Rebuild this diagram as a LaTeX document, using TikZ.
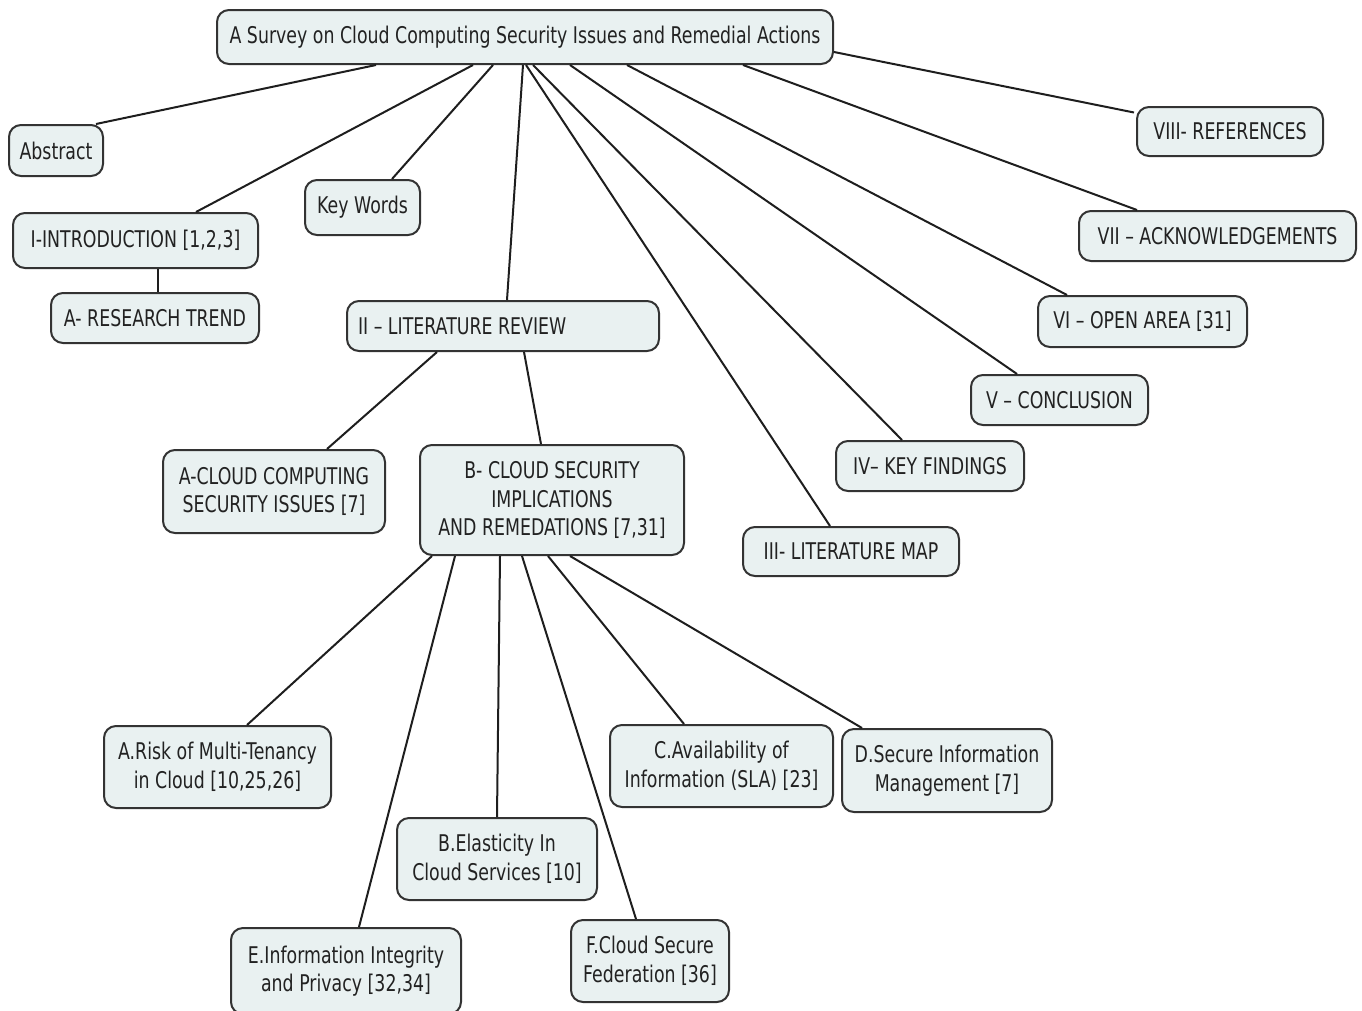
\documentclass[tikz,border=0pt]{standalone}
\usepackage{fontspec}
\setmainfont{DejaVu Sans}[FakeStretch=0.755]
\usetikzlibrary{calc}
\definecolor{boxfill}{HTML}{E9F1F1}
\definecolor{boxline}{HTML}{333333}
\definecolor{textcol}{HTML}{222222}
\definecolor{linecol}{HTML}{1E1E1E}
\tikzset{
  box/.style={draw=boxline, fill=boxfill, rounded corners=12pt, line width=2pt,
    text=textcol, align=center, inner sep=0pt,
    font=\fontsize{23}{28.5}\selectfont},
  link/.style={draw=linecol, line width=2pt},
}
\newcommand{\bx}[6]{\node[box, minimum width=#4, minimum height=#5] (#1) at (#2,#3) {#6};}
\begin{document}
\begin{tikzpicture}[x=1pt,y=-1pt]
\clip (0,0) rectangle (1362,1010);
\useasboundingbox (0,0) rectangle (1362,1010);

% top-level topic and sections
\bx{title}{525}{37}{616}{54}{A Survey on Cloud Computing Security Issues and Remedial Actions}
\bx{abs}{56}{150.5}{94}{51}{Abstract}
\bx{kw}{362.5}{207.5}{115}{55}{Key Words}
\bx{intro}{135.5}{240.5}{245}{55}{I-INTRODUCTION [1,2,3]}
\bx{rt}{155}{318}{208}{50}{A- RESEARCH TREND}
\node[box, minimum width=312, minimum height=50, text width=290, align=flush left] (lit) at (503,326) {II -- LITERATURE REVIEW};
\bx{acc}{274}{491.5}{222}{83}{A-CLOUD COMPUTING\\SECURITY ISSUES [7]}
\bx{bcs}{552}{500}{264}{110}{B- CLOUD SECURITY\\IMPLICATIONS\\AND REMEDATIONS [7,31]}
\bx{lmap}{851}{551.5}{216}{49}{III- LITERATURE MAP}
\bx{kf}{930}{466}{188}{50}{IV-- KEY FINDINGS}
\bx{concl}{1059.5}{400}{177}{50}{V -- CONCLUSION}
\bx{open}{1142.5}{321.5}{209}{51}{VI -- OPEN AREA [31]}
\bx{ack}{1217.5}{236}{277}{50}{VII -- ACKNOWLEDGEMENTS}
\bx{refs}{1230}{131.5}{186}{49}{VIII- REFERENCES}

% subsections of B
\bx{risk}{217.5}{767}{227}{82}{A.Risk of Multi-Tenancy\\in Cloud [10,25,26]}
\bx{elast}{497}{859}{200}{82}{B.Elasticity In\\Cloud Services [10]}
\bx{avail}{721.5}{766}{223}{82}{C.Availability of\\Information (SLA) [23]}
\bx{secinfo}{947}{770.5}{210}{83}{D.Secure Information\\Management [7]}
\bx{integ}{346}{971}{230}{86}{E.Information Integrity\\and Privacy [32,34]}
\bx{fed}{650}{961}{158}{82}{F.Cloud Secure\\Federation [36]}

% connectors from the title
\draw[link] ([xshift=-149pt]title.south) -- ([xshift=40pt]abs.north);
\draw[link] ([xshift=-52pt]title.south) -- ([xshift=60.5pt]intro.north);
\draw[link] ([xshift=-32pt]title.south) -- ([xshift=29.5pt]kw.north);
\draw[link] ([xshift=-2pt]title.south) -- ([xshift=4pt]lit.north);
\draw[link] ([xshift=1pt]title.south) -- ([xshift=-21pt]lmap.north);
\draw[link] ([xshift=8pt]title.south) -- ([xshift=-28pt]kf.north);
\draw[link] ([xshift=45pt]title.south) -- ([xshift=-42.5pt]concl.north);
\draw[link] ([xshift=102pt]title.south) -- ([xshift=-75.5pt]open.north);
\draw[link] ([xshift=218pt]title.south) -- ([xshift=-80.5pt]ack.north);
\draw[link] ([yshift=-15pt]title.east) -- ([xshift=-2pt,yshift=19pt]refs.west);

% second level
\draw[link] ([xshift=22.5pt]intro.south) -- ([xshift=3pt]rt.north);
\draw[link] ([xshift=-66pt]lit.south) -- ([xshift=53pt]acc.north);
\draw[link] ([xshift=21pt]lit.south) -- ([xshift=-11pt]bcs.north);

% third level
\draw[link] ([xshift=-120pt]bcs.south) -- ([xshift=29.5pt]risk.north);
\draw[link] ([xshift=-97pt]bcs.south) -- ([xshift=13pt]integ.north);
\draw[link] ([xshift=-52pt]bcs.south) -- (elast.north);
\draw[link] ([xshift=-30pt]bcs.south) -- ([xshift=-14pt]fed.north);
\draw[link] ([xshift=-4pt]bcs.south) -- ([xshift=-37.5pt]avail.north);
\draw[link] ([xshift=18pt]bcs.south) -- ([xshift=-85pt]secinfo.north);
\end{tikzpicture}
\end{document}
